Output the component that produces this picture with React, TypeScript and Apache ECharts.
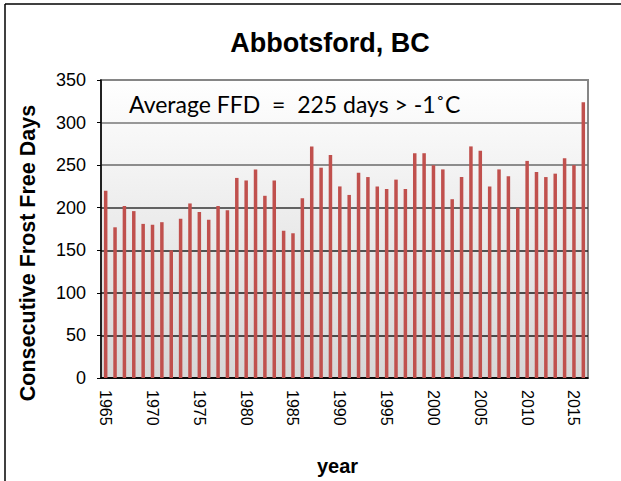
import React, { useEffect, useRef } from "react";
import * as echarts from "echarts";

const years: string[] = [
  "1965","1966","1967","1968","1969","1970","1971","1972","1973","1974",
  "1975","1976","1977","1978","1979","1980","1981","1982","1983","1984",
  "1985","1986","1987","1988","1989","1990","1991","1992","1993","1994",
  "1995","1996","1997","1998","1999","2000","2001","2002","2003","2004",
  "2005","2006","2007","2008","2009","2010","2011","2012","2013","2014",
  "2015","2016",
];

const frostFreeDays: number[] = [
  220, 177, 202, 196, 181, 180, 183, 150, 187, 205,
  195, 186, 202, 197, 235, 232, 245, 214, 232, 173,
  170, 211, 272, 247, 262, 225, 215, 241, 236, 225,
  222, 233, 222, 264, 264, 250, 245, 210, 236, 272,
  267, 225, 245, 237, 200, 255, 242, 236, 240, 258,
  250, 324,
];

const titleText = "Abbotsford, BC";
const annotationText = "Average FFD  =  225 days > -1˚C";
const yAxisName = "Consecutive Frost Free Days";
const xAxisName = "year";

export default function App() {
  const ref = useRef<HTMLDivElement>(null);

  useEffect(() => {
    if (!ref.current) return;
    const chart = echarts.init(ref.current, null, { renderer: "svg" });
    const font = "'Liberation Sans', Arial, sans-serif";
    chart.setOption({
      animation: false,
      backgroundColor: "#ffffff",
      title: {
        text: titleText,
        left: 325,
        textAlign: "center",
        top: 24,
        textStyle: { fontFamily: font, fontSize: 27, fontWeight: "bold", color: "#000" },
      },
      grid: {
        left: 101,
        right: 33,
        top: 80,
        bottom: 101,
        show: true,
        borderColor: "#868686",
        borderWidth: 2,
        backgroundColor: new echarts.graphic.LinearGradient(0, 0, 0, 1, [
          { offset: 0, color: "#ffffff" },
          { offset: 1, color: "#d6d6d6" },
        ]),
      },
      xAxis: {
        type: "category",
        data: years,
        boundaryGap: true,
        name: xAxisName,
        nameLocation: "middle",
        nameGap: 78,
        nameTextStyle: { fontFamily: font, fontSize: 20, fontWeight: "bold", color: "#000", padding: [0, 14, 0, 0] },
        axisLine: { show: true, lineStyle: { color: "#000", width: 1.5 } },
        axisTick: { show: false },
        axisLabel: {
          interval: 4,
          rotate: -90,
          margin: 12,
          fontFamily: font,
          fontSize: 16,
          color: "#000",
        },
        splitLine: { show: false },
      },
      yAxis: {
        type: "value",
        min: 0,
        max: 350,
        interval: 50,
        name: yAxisName,
        nameLocation: "middle",
        nameGap: 62,
        nameTextStyle: { fontFamily: font, fontSize: 21.5, fontWeight: "bold", color: "#000", padding: [0, 0, 0, -48] },
        axisLine: { show: true, lineStyle: { color: "#000", width: 1.5 } },
        axisTick: { show: true, length: 4, lineStyle: { color: "#000" } },
        axisLabel: { margin: 15, fontFamily: font, fontSize: 18, color: "#000" },
        splitLine: {
          show: true,
          lineStyle: {
            color: ["#000", "#1a1a1a", "#1a1a1a", "#222", "#333", "#6a6a6a", "#777", "#868686"],
            width: 1.5,
          },
        },
      },
      series: [
        {
          type: "bar",
          data: frostFreeDays,
          barWidth: 3.5,
          itemStyle: { color: "#C0504D" },
        },
      ],
      graphic: [
        {
          type: "line",
          shape: { x1: 5, y1: 4, x2: 5, y2: 481 },
          style: { stroke: "#000", lineWidth: 1.5 },
        },
        {
          type: "line",
          shape: { x1: 5, y1: 4, x2: 621, y2: 4 },
          style: { stroke: "#000", lineWidth: 1.5 },
        },
        {
          type: "text",
          left: 129,
          top: 92,
          z: 10,
          style: {
            text: annotationText,
            fontFamily: "Lato, 'Open Sans', sans-serif",
            fontSize: 23,
            fill: "#000",
          },
        },
      ],
    });
    return () => chart.dispose();
  }, []);

  return (
    <div
      ref={ref}
      style={{ position: "fixed", left: 0, top: 0, width: 621, height: 481 }}
    />
  );
}
